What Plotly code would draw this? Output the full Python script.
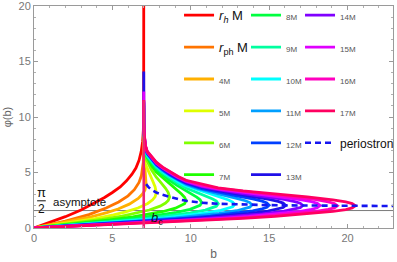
import math
import plotly.graph_objects as go

# ---------------- data ----------------
b_c = 7.0
bc_line_b = [7.0, 7.0]
bc_line_phi = [0.0, 11.5]
asym_b = [0.0, 22.9]
asym_phi = [math.pi / 2, math.pi / 2]

b_peri = [7.15, 7.3, 7.5, 7.8, 8.2, 8.65, 9.2, 9.7, 10.7, 11.75, 12.8, 13.9, 15.0, 16.05, 17.15, 18.25, 19.35, 20.5, 21.7, 22.9]
phi_peri = [3.95, 3.68, 3.45, 3.2, 2.99, 2.8, 2.6, 2.45, 2.28, 2.18, 2.12, 2.08, 2.06, 2.04, 2.03, 2.02, 2.01, 2.0, 1.99, 1.98]

b_rh = [0, 1, 2, 3, 4, 4.5, 5, 5.5, 5.9, 6.25, 6.5, 6.7, 6.84, 6.93, 6.975, 6.995, 7.0]
phi_rh = [0, 0.49, 1.02, 1.62, 2.35, 2.75, 3.2, 3.7, 4.25, 4.85, 5.4, 6.1, 6.9, 7.8, 8.8, 10.2, 20.0]

b_rph = [0, 2, 3.5, 4.6, 5.4, 6.0, 6.4, 6.7, 6.85, 6.93, 6.97, 6.99, 6.997, 7.0]
phi_rph = [0, 0.62, 1.2, 1.8, 2.35, 2.9, 3.45, 4.1, 4.7, 5.3, 5.9, 6.7, 7.5, 9.5]

b_4M = [0, 2.145, 3.575, 4.6475, 5.3625, 6.0775, 6.435, 6.6495, 6.9355, 7.007, 7.0785, 7.15,
        7.0785, 7.025, 7.01, 7.004, 7.001]
phi_4M = [0, 0.554, 0.983, 1.38, 1.712, 2.148, 2.442, 2.666, 3.082, 3.231, 3.434, 3.95,
          5.032, 5.749, 6.675, 7.674, 8.742]

b_5M = [0, 2.34, 3.9, 5.07, 5.85, 6.63, 7.02, 7.254, 7.566, 7.722, 7.8,
        7.722, 7.566, 7.5, 7.3, 7.254, 7.1, 7.05, 7.025, 7.01, 7.004, 7.001]
phi_5M = [0, 0.481, 0.848, 1.18, 1.452, 1.803, 2.036, 2.212, 2.536, 2.807, 3.2,
          3.723, 4.254, 4.449, 5.11, 5.314, 5.772, 6.376, 7.014, 7.894, 8.869, 9.93]

b_6M = [0, 2.595, 4.325, 5.6225, 6.4875, 7.3525, 8.0445, 8.3905, 8.5635, 8.65,
        8.5635, 8.3905, 8.0445, 7.8, 7.5, 7.3525, 7.1, 7.05, 7.025, 7.01, 7.004, 7.001]
phi_6M = [0, 0.444, 0.777, 1.074, 1.315, 1.62, 1.971, 2.245, 2.473, 2.8,
          3.2, 3.574, 4.172, 4.572, 5.226, 5.619, 6.361, 6.936, 7.559, 8.435, 9.408, 10.467]

b_7M = [0, 2.91, 4.85, 6.305, 7.275, 8.245, 9.021, 9.409, 9.603, 9.7,
        9.603, 9.409, 9.021, 8.65, 8.245, 7.8, 7.5, 7.275, 7.1, 7.05, 7.025, 7.01, 7.004, 7.001]
phi_7M = [0, 0.424, 0.737, 1.008, 1.222, 1.487, 1.783, 2.008, 2.191, 2.45,
          2.767, 3.066, 3.547, 3.968, 4.455, 5.044, 5.623, 6.228, 6.707, 7.278, 7.897, 8.765, 9.735, 10.794]

b_8M = [0, 3.21, 5.35, 6.955, 8.025, 9.095, 9.951, 10.379, 10.593, 10.7,
        10.593, 10.379, 9.951, 9.7, 9.095, 8.65, 8.2, 8.025, 7.8, 7.5, 7.22, 7.1, 7.05, 7.025, 7.01, 7.004, 7.001]
phi_8M = [0, 0.409, 0.708, 0.965, 1.165, 1.411, 1.681, 1.885, 2.05, 2.28,
          2.546, 2.784, 3.134, 3.314, 3.865, 4.299, 4.778, 4.999, 5.28, 5.837, 6.333, 6.898, 7.466, 8.084, 8.95, 9.92, 10.979]

b_9M = [0, 3.525, 5.875, 7.6375, 8.8125, 9.9875, 10.9275, 11.3975, 11.6325, 11.75,
        11.6325, 11.3975, 10.9275, 9.9875, 9.7, 9.2, 8.8125, 8.65, 8.2, 7.8, 7.6375, 7.5, 7.22, 7.1, 7.05, 7.025, 7.01, 7.004, 7.001]
phi_9M = [0, 0.399, 0.689, 0.937, 1.129, 1.364, 1.62, 1.812, 1.965, 2.18,
          2.417, 2.615, 2.897, 3.438, 3.6, 4.0, 4.353, 4.499, 4.955, 5.438, 5.733, 5.986, 6.473, 7.035, 7.599, 8.215, 9.081, 10.05, 11.109]

b_10M = [0, 3.84, 6.4, 8.32, 9.6, 10.88, 11.904, 12.416, 12.672, 12.8,
         12.672, 12.416, 11.904, 10.88, 9.6, 9.2, 8.65, 8.32, 7.8, 7.5, 7.22, 7.1, 7.05, 7.025, 7.01, 7.004, 7.001]
phi_10M = [0, 0.391, 0.675, 0.917, 1.104, 1.332, 1.58, 1.765, 1.914, 2.12,
           2.341, 2.519, 2.762, 3.194, 3.856, 4.157, 4.638, 4.962, 5.553, 6.091, 6.574, 7.133, 7.697, 8.312, 9.177, 10.146, 11.205]

b_11M = [0, 4.17, 6.95, 9.035, 10.425, 11.815, 12.927, 13.483, 13.761, 13.9,
         13.761, 13.483, 12.927, 11.815, 10.425, 9.7, 9.035, 8.65, 8.2, 7.8, 7.5, 7.22, 7.1, 7.05, 7.025, 7.01, 7.004, 7.001]
phi_11M = [0, 0.386, 0.666, 0.904, 1.088, 1.312, 1.554, 1.735, 1.879, 2.08,
           2.291, 2.455, 2.677, 3.041, 3.565, 3.912, 4.416, 4.743, 5.176, 5.641, 6.18, 6.663, 7.218, 7.778, 8.391, 9.254, 10.223, 11.281]

b_12M = [0, 4.5, 7.5, 9.75, 11.25, 12.75, 13.95, 14.55, 14.85, 15.0,
         14.85, 14.55, 13.95, 12.75, 11.25, 10.7, 9.75, 9.2, 8.65, 8.2, 7.8, 7.5, 7.22, 7.1, 7.05, 7.025, 7.01, 7.004, 7.001]
phi_12M = [0, 0.382, 0.659, 0.894, 1.077, 1.298, 1.539, 1.718, 1.861, 2.06,
           2.264, 2.418, 2.619, 2.948, 3.378, 3.553, 3.989, 4.367, 4.825, 5.25, 5.712, 6.241, 6.72, 7.275, 7.836, 8.45, 9.315, 10.284, 11.342]

b_13M = [0, 4.815, 8.025, 10.433, 12.038, 13.643, 14.927, 15.569, 15.89, 16.05,
         15.89, 15.569, 14.927, 13.643, 12.038, 11.2, 10.433, 9.7, 9.2, 8.65, 8.025, 7.8, 7.5, 7.22, 7.1, 7.05, 7.025, 7.01, 7.004, 7.001, 7.0001]
phi_13M = [0, 0.377, 0.651, 0.884, 1.064, 1.284, 1.522, 1.7, 1.842, 2.04,
           2.244, 2.398, 2.601, 2.895, 3.263, 3.497, 3.767, 4.091, 4.44, 4.892, 5.513, 5.77, 6.299, 6.777, 7.33, 7.889, 8.502, 9.365, 10.334, 11.392, 14.1]

b_14M = [0, 5.145, 8.575, 11.148, 12.863, 14.578, 15.95, 16.636, 16.979, 17.15,
         16.979, 16.636, 15.95, 14.578, 12.863, 11.148, 10.7, 9.7, 9.2, 8.575, 8.2, 7.8, 7.5, 7.22, 7.1, 7.05, 7.025, 7.01, 7.004, 7.001]
phi_14M = [0, 0.374, 0.646, 0.878, 1.057, 1.275, 1.513, 1.69, 1.832, 2.03,
           2.231, 2.379, 2.571, 2.86, 3.178, 3.597, 3.725, 4.157, 4.501, 5.017, 5.366, 5.818, 6.345, 6.823, 7.375, 7.935, 8.546, 9.409, 10.377, 11.435]

b_15M = [0, 5.475, 9.125, 11.863, 13.688, 15.513, 16.973, 17.703, 18.068, 18.25,
         18.068, 17.703, 16.973, 15.513, 13.688, 11.863, 10.7, 9.7, 9.125, 8.65, 8.2, 7.8, 7.5, 7.22, 7.1, 7.05, 7.025, 7.01, 7.004, 7.001, 7.0005]
phi_15M = [0, 0.372, 0.642, 0.872, 1.051, 1.268, 1.504, 1.681, 1.823, 2.02,
           2.22, 2.369, 2.559, 2.832, 3.124, 3.475, 3.79, 4.212, 4.612, 4.995, 5.41, 5.86, 6.382, 6.857, 7.408, 7.967, 8.58, 9.444, 10.413, 11.471, 12.3]

b_16M = [0, 5.805, 9.675, 12.578, 14.513, 16.448, 17.996, 18.77, 19.157, 19.35,
         19.157, 18.77, 17.996, 16.448, 14.513, 12.578, 11.75, 10.7, 9.675, 9.2, 8.65, 8.2, 7.8, 7.5, 7.22, 7.1, 7.05, 7.025, 7.01, 7.004, 7.001]
phi_16M = [0, 0.369, 0.638, 0.867, 1.045, 1.261, 1.496, 1.672, 1.813, 2.01,
           2.21, 2.358, 2.549, 2.812, 3.093, 3.398, 3.562, 3.845, 4.277, 4.597, 5.037, 5.45, 5.896, 6.415, 6.888, 7.438, 7.999, 8.612, 9.476, 10.445, 11.503]

b_17M = [0, 6.15, 10.25, 13.325, 15.375, 17.425, 19.065, 19.885, 20.295, 20.5,
         20.295, 19.885, 19.065, 17.425, 15.375, 13.325, 11.75, 10.25, 9.7, 9.2, 8.65, 8.2, 7.8, 7.5, 7.22, 7.1, 7.05, 7.025, 7.01, 7.004, 7.001]
phi_17M = [0, 0.368, 0.636, 0.864, 1.041, 1.256, 1.49, 1.665, 1.805, 2.0,
           2.199, 2.346, 2.535, 2.799, 3.065, 3.338, 3.617, 4.077, 4.302, 4.635, 5.072, 5.48, 5.927, 6.447, 6.918, 7.468, 8.027, 8.639, 9.503, 10.472, 11.53]

curve_labels = ["<i>r</i><sub><i>h</i></sub> M", "<i>r</i><sub>ph</sub> M",
                "4M", "5M", "6M", "7M", "8M", "9M", "10M", "11M", "12M",
                "13M", "14M", "15M", "16M", "17M"]
curve_b = [b_rh, b_rph, b_4M, b_5M, b_6M, b_7M, b_8M, b_9M, b_10M, b_11M, b_12M,
           b_13M, b_14M, b_15M, b_16M, b_17M]
curve_phi = [phi_rh, phi_rph, phi_4M, phi_5M, phi_6M, phi_7M, phi_8M, phi_9M, phi_10M,
             phi_11M, phi_12M, phi_13M, phi_14M, phi_15M, phi_16M, phi_17M]

# ---------------- styles ----------------
curve_colors = ["#ff0000", "#ff7400", "#ffb000", "#dfff00", "#80ff00", "#20ff00",
                "#00ff40", "#00ff9f", "#00ffff", "#009fff", "#0040ff", "#2010e8",
                "#8000ff", "#df00ff", "#ff00bf", "#ff0060"]
legend_of = ["legend"] * 6 + ["legend2"] * 6 + ["legend3"] * 4
FONT = "Liberation Sans"

fig = go.Figure()

fig.add_trace(go.Scatter(x=asym_b, y=asym_phi, mode="lines",
                         line=dict(color="#7a7a7a", width=1),
                         showlegend=False, hoverinfo="skip"))

for i, (lab, bx, py) in enumerate(zip(curve_labels, curve_b, curve_phi)):
    if i < 2:
        name = lab
    else:
        name = "<span style='font-size:8px;color:#555'>" + lab + "</span>"
    fig.add_trace(go.Scatter(x=bx, y=py, mode="lines", name=name,
                             line=dict(color=curve_colors[i], width=2.8),
                             legend=legend_of[i], legendgroup="g%d" % i,
                             hoverinfo="skip"))

fig.add_trace(go.Scatter(x=b_peri, y=phi_peri, mode="lines",
                         name="<span style='font-size:12px'>periostron</span>",
                         line=dict(color="#1515f0", width=2.6, dash="6px,4px"),
                         legend="legend3", legendgroup="gp", hoverinfo="skip"))

fig.add_trace(go.Scatter(x=bc_line_b, y=bc_line_phi, mode="lines",
                         line=dict(color="#ee2277", width=2.6),
                         showlegend=False, hoverinfo="skip"))

legend_common = dict(xanchor="left", yanchor="top", bgcolor="rgba(0,0,0,0)",
                     font=dict(family=FONT, size=13, color="#111"),
                     tracegroupgap=12, traceorder="grouped", itemwidth=30,
                     borderwidth=0, maxheight=400)

fig.update_layout(
    width=397, height=262,
    margin=dict(l=34, r=4, t=6, b=34, autoexpand=False),
    paper_bgcolor="white", plot_bgcolor="white",
    font=dict(family=FONT, size=11, color="#666"),
    legend=dict(x=0.404, y=1.026, **legend_common),
    legend2=dict(x=0.5905, y=1.026, **legend_common),
    legend3=dict(x=0.741, y=1.026, **legend_common),
    annotations=[
        dict(x=7.35, y=0.9, xref="x", yref="y", text="<i>b</i><sub>c</sub>",
             showarrow=False, xanchor="left", yanchor="middle",
             font=dict(family=FONT, size=13, color="#111")),
        dict(x=0.47, y=3.2, xref="x", yref="y", text="π", showarrow=False,
             xanchor="center", yanchor="middle",
             font=dict(family=FONT, size=13, color="#111")),
        dict(x=0.47, y=1.72, xref="x", yref="y", text="2", showarrow=False,
             xanchor="center", yanchor="middle",
             font=dict(family=FONT, size=12, color="#111")),
        dict(x=1.1, y=2.35, xref="x", yref="y", text="asymptote", showarrow=False,
             xanchor="left", yanchor="middle",
             font=dict(family=FONT, size=11.5, color="#111")),
    ],
    shapes=[dict(type="line", xref="x", yref="y", x0=0.2, x1=0.75, y0=2.45, y1=2.45,
                 line=dict(color="#111", width=1))],
)

axis_common = dict(showgrid=False, zeroline=False, showline=True, linecolor="#9a9a9a",
                   linewidth=1, mirror="ticks", ticks="inside", ticklen=4,
                   tickcolor="#9a9a9a", tickfont=dict(family=FONT, size=11, color="#777"),
                   ticklabeloverflow="allow",
                   minor=dict(ticks="inside", ticklen=2, tickcolor="#b0b0b0", dtick=1,
                              showgrid=False))

fig.update_xaxes(range=[0, 22.9], tickvals=[0, 5, 10, 15, 20],
                 title=dict(text="b", font=dict(family=FONT, size=12, color="#666"), standoff=6),
                 **axis_common)
fig.update_yaxes(range=[0, 20], tickvals=[0, 5, 10, 15, 20],
                 title=dict(text="φ(b)", font=dict(family=FONT, size=11, color="#666"), standoff=4),
                 **axis_common)

fig.write_html("out.html", config={"displayModeBar": False},
               post_script="document.body.style.margin='0';document.body.style.padding='0';")
